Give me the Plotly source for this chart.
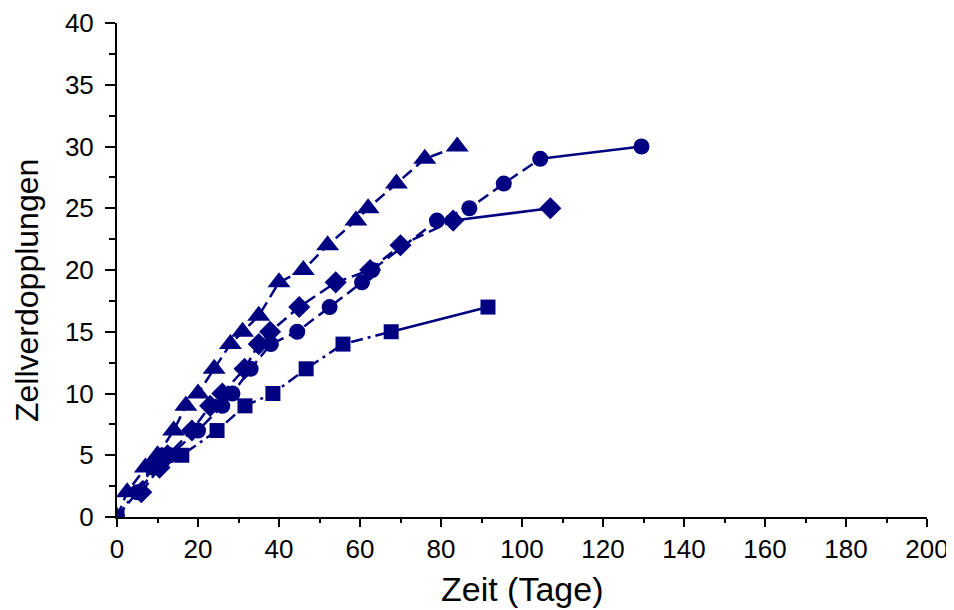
import plotly.graph_objects as go

# Series data (Zeit in Tage, Zellverdopplungen)
tri_x = [0, 2.5, 7, 10, 14, 17, 20, 24, 28, 31, 35, 40, 46, 52, 59, 62, 69, 76, 84]
tri_y = [0, 2, 4, 5, 7, 9, 10, 12, 14, 15, 16.3, 19, 20, 22, 24, 25, 27, 29, 30]

circ_x = [0, 5, 10, 13, 20, 26, 28.5, 33, 38, 44.5, 52.5, 60.5, 63, 79, 87, 95.5, 104.5, 129.5]
circ_y = [0, 2, 4, 5, 7, 9, 10, 12, 14, 15, 17, 19, 20, 24, 25, 27, 29, 30]

dia_x = [6, 10.5, 12.5, 18.5, 23, 26, 31.5, 35, 37.8, 45, 54, 62.5, 70, 83, 107]
dia_y = [2, 4, 5, 7, 9, 10, 12, 14, 15, 17, 19, 20, 22, 24, 25]

sq_x = [0, 9, 12, 16, 24.7, 31.6, 38.5, 46.7, 55.8, 67.7, 91.6]
sq_y = [0, 4, 5, 5, 7, 9, 10, 12, 14, 15, 17]

x_ticks = [0, 20, 40, 60, 80, 100, 120, 140, 160, 180, 200]
y_ticks = [0, 5, 10, 15, 20, 25, 30, 35, 40]

x_title = "Zeit (Tage)"
y_title = "Zellverdopplungen"

NAVY = "#000080"
FONT = "Liberation Sans, Arial, sans-serif"
fig = go.Figure()

def add_series(xs, ys, symbol, size, dash, solid_last):
    if solid_last:
        fig.add_trace(go.Scatter(x=xs[:-1], y=ys[:-1], mode="lines",
                                 line=dict(color=NAVY, width=2.5, dash=dash),
                                 showlegend=False, hoverinfo="skip"))
        fig.add_trace(go.Scatter(x=xs[-2:], y=ys[-2:], mode="lines",
                                 line=dict(color=NAVY, width=2.5),
                                 showlegend=False, hoverinfo="skip"))
    else:
        fig.add_trace(go.Scatter(x=xs, y=ys, mode="lines",
                                 line=dict(color=NAVY, width=2.5, dash=dash),
                                 showlegend=False, hoverinfo="skip"))
    fig.add_trace(go.Scatter(x=xs, y=ys, mode="markers",
                             marker=dict(symbol=symbol, size=size, color=NAVY,
                                         line=dict(width=0)),
                             showlegend=False))

add_series(sq_x, sq_y, "square", 15, "12px,5px,3px,5px", True)
add_series(dia_x, dia_y, "diamond", 17, "12px,6px", True)
add_series(circ_x, circ_y, "circle", 16, "12px,6px", True)
add_series(tri_x, tri_y, "triangle-up", 20, "12px,6px", False)

fig.update_layout(
    width=946, height=602,
    margin=dict(l=109, r=27, t=15, b=93, autoexpand=False),
    plot_bgcolor="white", paper_bgcolor="white",
    xaxis=dict(
        range=[0, 200], tickvals=x_ticks, ticktext=[str(v) for v in x_ticks],
        showgrid=False, zeroline=False, showline=True, linecolor="black", linewidth=2,
        ticks="outside", ticklen=8, tickwidth=2, tickcolor="black",
        minor=dict(dtick=10, ticks="outside", ticklen=4, tickwidth=2, tickcolor="black"),
        tickfont=dict(family=FONT, size=26, color="black"),
        ticklabelstandoff=0, automargin=False,
    ),
    yaxis=dict(
        range=[0, 40], tickvals=y_ticks, ticktext=[str(v) for v in y_ticks],
        showgrid=False, zeroline=False, showline=True, linecolor="black", linewidth=2,
        ticks="outside", ticklen=10, tickwidth=2, tickcolor="black",
        minor=dict(dtick=2.5, ticks="outside", ticklen=6, tickwidth=2, tickcolor="black"),
        tickfont=dict(family=FONT, size=26, color="black"),
        ticklabelstandoff=6, automargin=False,
    ),
    annotations=[
        dict(text=x_title, xref="paper", yref="paper", x=0.5, y=0,
             xanchor="center", yanchor="middle", yshift=-72, showarrow=False,
             font=dict(family=FONT, size=34, color="black")),
        dict(text=y_title, xref="paper", yref="paper", x=0, y=0.4575,
             xanchor="center", yanchor="middle", xshift=-90, textangle=-90,
             showarrow=False, font=dict(family=FONT, size=32, color="black")),
    ],
)

fig.write_html("out.html")
